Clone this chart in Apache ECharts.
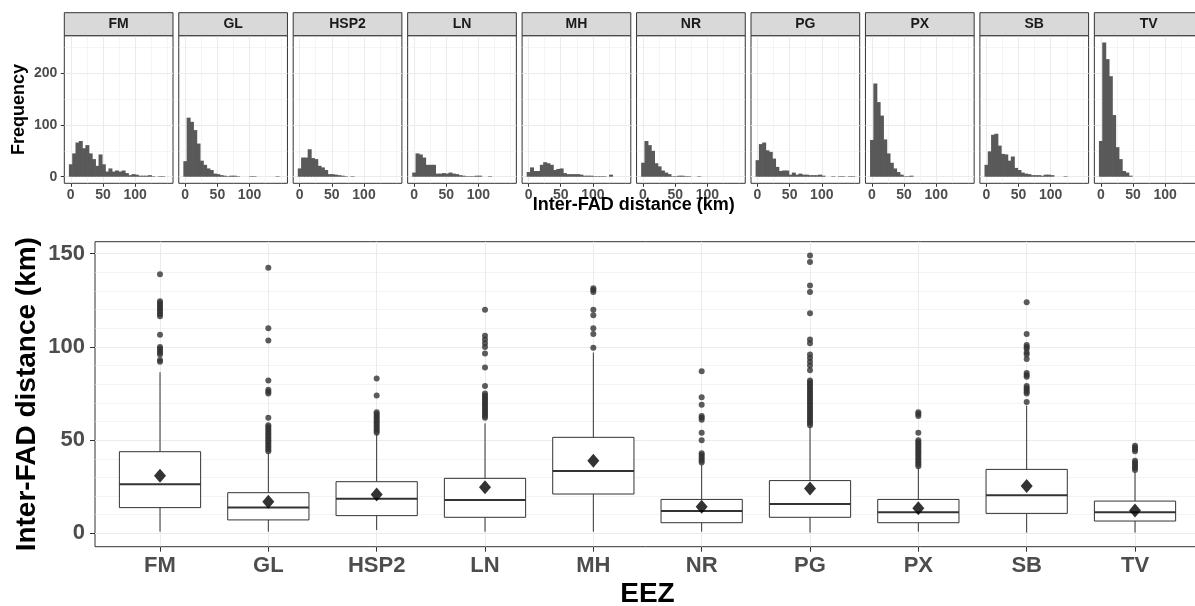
<!DOCTYPE html>
<html><head><meta charset="utf-8">
<script src="https://cdn.jsdelivr.net/npm/echarts@6/dist/echarts.min.js"></script>
<style>html,body{margin:0;padding:0;background:#fff;}#chart{width:1195px;height:606px;}</style>
</head><body><div id="chart"></div>
<script>
// ---------------- data ----------------
const facetNames = ['FM','GL','HSP2','LN','MH','NR','PG','PX','SB','TV'];
const binCenters = [0.2,5.32,10.44,15.56,20.68,25.8,30.92,36.04,41.16,46.28,51.4,56.52,61.64,66.76,71.88,77.0,82.12,87.24,92.36,97.48,102.6,107.72,112.84,117.96,123.08,128.2,133.32,138.44,143.56,148.68];
const binWidth = 5.12;
const freqFM   = [24,45,66,69,55,61,45,34,21,43,24,10,16,10,12,10,12,7,3,5,4,2,2,2,3,1,0,1,1,0];
const freqGL   = [30,114,106,90,64,31,23,16,13,6,5,3,2,1,2,2,1,0,0,0,1,1,0,0,0,0,0,0,1,0];
const freqHSP2 = [16,37,37,53,36,34,21,18,13,5,5,4,3,2,1,0,1,0,0,0,0,0,0,0,0,0,0,0,0,0];
const freqLN   = [8,45,43,37,23,23,23,6,6,7,6,8,6,5,3,2,1,1,1,2,2,0,0,1,0,0,0,0,0,0];
const freqMH   = [9,18,11,11,23,28,26,23,13,15,16,7,5,5,5,5,4,2,2,2,1,1,1,1,0,4,0,0,0,0];
const freqNR   = [27,69,61,50,26,20,12,8,5,1,1,2,2,1,1,0,0,1,0,0,0,0,0,0,0,0,0,0,0,0];
const freqPG   = [32,63,66,51,48,35,19,11,12,12,4,8,4,6,4,4,3,3,3,4,2,0,0,1,0,1,1,0,1,1];
const freqPX   = [71,180,144,118,72,45,27,16,9,4,1,1,2,0,0,0,0,0,0,0,0,0,0,0,0,0,0,0,0,0];
const freqSB   = [23,49,81,83,60,44,43,31,39,17,13,8,6,5,3,3,3,2,4,4,3,0,0,0,1,0,0,0,0,0];
const freqTV   = [69,259,227,194,119,57,34,11,8,2,0,0,0,0,0,0,0,0,0,0,0,0,0,0,0,0,0,0,0,0];
const freqs = [freqFM,freqGL,freqHSP2,freqLN,freqMH,freqNR,freqPG,freqPX,freqSB,freqTV];

const whiskerLow  = [0.9,0.9,1.8,0.9,0.9,0.9,0.4,0.9,0.4,0.4];
const q1          = [13.8,7.2,9.5,8.6,21.1,5.7,8.6,5.7,10.7,6.6];
const median      = [26.3,13.9,18.6,17.9,33.4,12.0,15.7,11.3,20.4,11.3];
const q3          = [43.8,21.8,27.7,29.5,51.5,18.2,28.3,18.2,34.3,17.3];
const whiskerHigh = [86.4,43.0,53.6,59.0,97.0,36.7,57.2,35.4,68.5,33.1];
const means       = [30.9,17.0,20.9,24.7,39.0,14.3,24.1,13.4,25.4,12.2];
const outFM   = [139,124.5,123.5,122.5,121.5,120.5,119.5,118.5,117.5,116.5,106.5,100,99,98,97,96,93,92];
const outGL   = [142.5,110,103.5,82,77,76,75,62,58,57,56,55,54,53,52,51,50,49,48,47,46,45,44];
const outHSP2 = [83,74,65,64,63,62,61,60,59,58,57,56,55,54];
const outLN   = [120,106,104,102,100,96.5,89,79,75,74,73,72,71,70,69,68,67,66,65,64,63,62];
const outMH   = [131.5,130.5,129.5,120,117,110,107,99.5];
const outNR   = [87,73,69,63,62,61,54,50,43,42,41,40,39,38];
const outPG   = [149,145.5,133,129.5,118,104,102,96,94,92,90,87.5,82,81,80,79,78,77,76,75,74,73,72,71,70,69,68,67,66,65,64,63,62,61,60,59,58];
const outPX   = [65,64,63,54,50,49,48,47,46,45,44,43,42,41,40,39,38,37,36];
const outSB   = [124,107,101,100,99,97,96,93.5,86,85,84,79,78,77,76,75,70.5];
const outTV   = [47,46,45,44,39,38,37,36,35,34];
const outliers = [outFM,outGL,outHSP2,outLN,outMH,outNR,outPG,outPX,outSB,outTV];

const histXTicks = [0,50,100];
const histXMinor = [25,75,125,150];
const histYTicks = [0,100,200];
const histYMinor = [50,150,250];
const boxYTicks  = [0,50,100,150];
const boxYMinor  = [0,10,20,30,40,60,70,80,90,110,120,130,140];
const boxXTicks  = [0,1,2,3,4,5,6,7,8,9];

// ---------------- layout ----------------
const FONT = "'Liberation Sans', Arial, sans-serif";
const F_LEFT0 = 64.3, F_STEP = 114.45, F_W = 108.7, F_TOP = 35.7, F_H = 147.6, S_TOP = 12.7, S_H = 23;
const B_LEFT = 95, B_TOP = 241.7, B_W = 1105, B_H = 305;
const HX = [-10.04, 158.9], HY = [-12.7, 272.2];
const BX = [-0.6, 9.6], BY = [-7.17, 156.45];
const GRIDC = '#ebebeb', INK = '#333333', TICKC = '#4d4d4d';

const grids = [], xAxes = [], yAxes = [], series = [], graphics = [];

function axisPair(gi, range, major, minor, opts) {
  const common = {gridIndex: gi, type: 'value', min: range[0], max: range[1], axisLine: {show: false, onZero: false}, nameMoveOverlap: false};
  const a = Object.assign({}, common, {
    axisTick: {show: opts.ticks, customValues: major, length: opts.tickLen, lineStyle: {color: INK, width: 1}},
    axisLabel: {show: opts.labels, customValues: major, margin: opts.margin, color: TICKC, fontWeight: 'bold', fontSize: opts.fontSize, fontFamily: FONT, formatter: opts.formatter},
    splitLine: {show: true, lineStyle: {color: GRIDC, width: opts.majorW}}
  }, opts.extra || {});
  const b = Object.assign({}, common, {
    axisTick: {show: false, customValues: minor},
    axisLabel: {show: false, customValues: minor},
    splitLine: {show: true, lineStyle: {color: GRIDC, width: opts.minorW}}
  });
  return [a, b];
}

facetNames.forEach((name, i) => {
  const left = F_LEFT0 + F_STEP * i;
  grids.push({left: left, top: F_TOP, width: F_W, height: F_H, show: true, borderColor: INK, borderWidth: 1, backgroundColor: '#fff', containLabel: false, outerBoundsMode: 'none'});
  const xs = axisPair(i, HX, histXTicks, histXMinor, {ticks: true, labels: true, tickLen: 3.5, margin: 5, fontSize: 14, majorW: 1, minorW: 0.5});
  const ys = axisPair(i, HY, histYTicks, histYMinor, {ticks: i === 0, labels: i === 0, tickLen: 3.5, margin: 7, fontSize: 14, majorW: 1, minorW: 0.5,
    extra: i === 0 ? {name: 'Frequency', nameLocation: 'middle', nameRotate: 90, nameGap: 36, nameTextStyle: {fontSize: 18, fontWeight: 'bold', color: '#000', fontFamily: FONT}} : {}});
  xAxes.push(xs[0], xs[1]);
  yAxes.push(ys[0], ys[1]);
  series.push({
    type: 'custom', xAxisIndex: 2 * i, yAxisIndex: 2 * i, silent: true, z: 3,
    data: binCenters.map((c, k) => [c, freqs[i][k]]).filter(d => d[1] > 0),
    encode: {x: 0, y: 1},
    renderItem: function (params, api) {
      const c = api.value(0), n = api.value(1);
      const p0 = api.coord([c - binWidth / 2, n]);
      const p1 = api.coord([c + binWidth / 2, 0]);
      return {type: 'rect', shape: {x: p0[0] - 0.35, y: p0[1], width: p1[0] - p0[0] + 0.7, height: p1[1] - p0[1]},
              style: {fill: '#595959'}};
    }
  });
  graphics.push({type: 'rect', z: 10, shape: {x: left, y: S_TOP, width: F_W, height: S_H}, style: {fill: '#d9d9d9', stroke: INK, lineWidth: 1}});
  graphics.push({type: 'text', z: 11, x: left + F_W / 2, y: S_TOP + S_H / 2,
    style: {text: name, align: 'center', verticalAlign: 'middle', fontSize: 14, fontWeight: 'bold', fontFamily: FONT, fill: '#1a1a1a'}});
});

graphics.push({type: 'text', z: 11, x: F_LEFT0 + (F_STEP * 9 + F_W) / 2, y: 205.5,
  style: {text: 'Inter-FAD distance (km)', align: 'center', verticalAlign: 'middle', fontSize: 18, fontWeight: 'bold', fontFamily: FONT, fill: '#000'}});

// bottom boxplot panel
const BG = 10;
grids.push({left: B_LEFT, top: B_TOP, width: B_W, height: B_H, show: true, borderColor: INK, borderWidth: 1, backgroundColor: '#fff', containLabel: false, outerBoundsMode: 'none'});
const bx = axisPair(BG, BX, boxXTicks, [], {ticks: true, labels: true, tickLen: 5, margin: 8, fontSize: 22, majorW: 1, minorW: 0.5,
  formatter: v => facetNames[Math.round(v)],
  extra: {name: 'EEZ', nameLocation: 'middle', nameGap: 34, nameTextStyle: {fontSize: 28, fontWeight: 'bold', color: '#000', fontFamily: FONT}}});
const by = axisPair(BG, BY, boxYTicks, boxYMinor, {ticks: true, labels: true, tickLen: 5, margin: 10, fontSize: 22, majorW: 1, minorW: 0.6,
  extra: {name: 'Inter-FAD distance (km)', nameLocation: 'middle', nameRotate: 90, nameGap: 54, nameTextStyle: {fontSize: 28, fontWeight: 'bold', color: '#000', fontFamily: FONT}}});
xAxes.push(bx[0]);
yAxes.push(by[0], by[1]);
const BXI = xAxes.length - 1, BYI = yAxes.length - 2;

series.push({
  type: 'custom', xAxisIndex: BXI, yAxisIndex: BYI, silent: true, z: 3,
  data: facetNames.map((n, i) => [i, whiskerLow[i], q1[i], median[i], q3[i], whiskerHigh[i]]),
  encode: {x: 0, y: [1, 2, 3, 4, 5]},
  renderItem: function (params, api) {
    const x = api.value(0);
    const half = api.size([0.75, 0])[0] / 2;
    const lo = api.coord([x, api.value(1)]), b1 = api.coord([x, api.value(2)]), md = api.coord([x, api.value(3)]),
          b3 = api.coord([x, api.value(4)]), hi = api.coord([x, api.value(5)]);
    const cx = lo[0];
    const ls = {stroke: INK, lineWidth: 1};
    return {type: 'group', children: [
      {type: 'line', shape: {x1: cx, y1: b3[1], x2: cx, y2: hi[1]}, style: ls},
      {type: 'line', shape: {x1: cx, y1: b1[1], x2: cx, y2: lo[1]}, style: ls},
      {type: 'rect', shape: {x: cx - half, y: b3[1], width: 2 * half, height: b1[1] - b3[1]}, style: {fill: '#fff', stroke: INK, lineWidth: 1}},
      {type: 'line', shape: {x1: cx - half, y1: md[1], x2: cx + half, y2: md[1]}, style: {stroke: INK, lineWidth: 2}}
    ]};
  }
});
const outData = [];
outliers.forEach((arr, i) => arr.forEach(v => outData.push([i, v])));
series.push({type: 'scatter', xAxisIndex: BXI, yAxisIndex: BYI, silent: true, z: 4, symbol: 'circle', symbolSize: 6,
  itemStyle: {color: INK}, data: outData});
series.push({type: 'scatter', xAxisIndex: BXI, yAxisIndex: BYI, silent: true, z: 5, symbol: 'diamond', symbolSize: [12, 14],
  itemStyle: {color: '#000'}, data: means.map((m, i) => [i, m])});

const chart = echarts.init(document.getElementById('chart'), null, {renderer: 'canvas'});
chart.setOption({
  animation: false,
  backgroundColor: '#fff',
  grid: grids, xAxis: xAxes, yAxis: yAxes, series: series, graphic: graphics
});
</script></body></html>
